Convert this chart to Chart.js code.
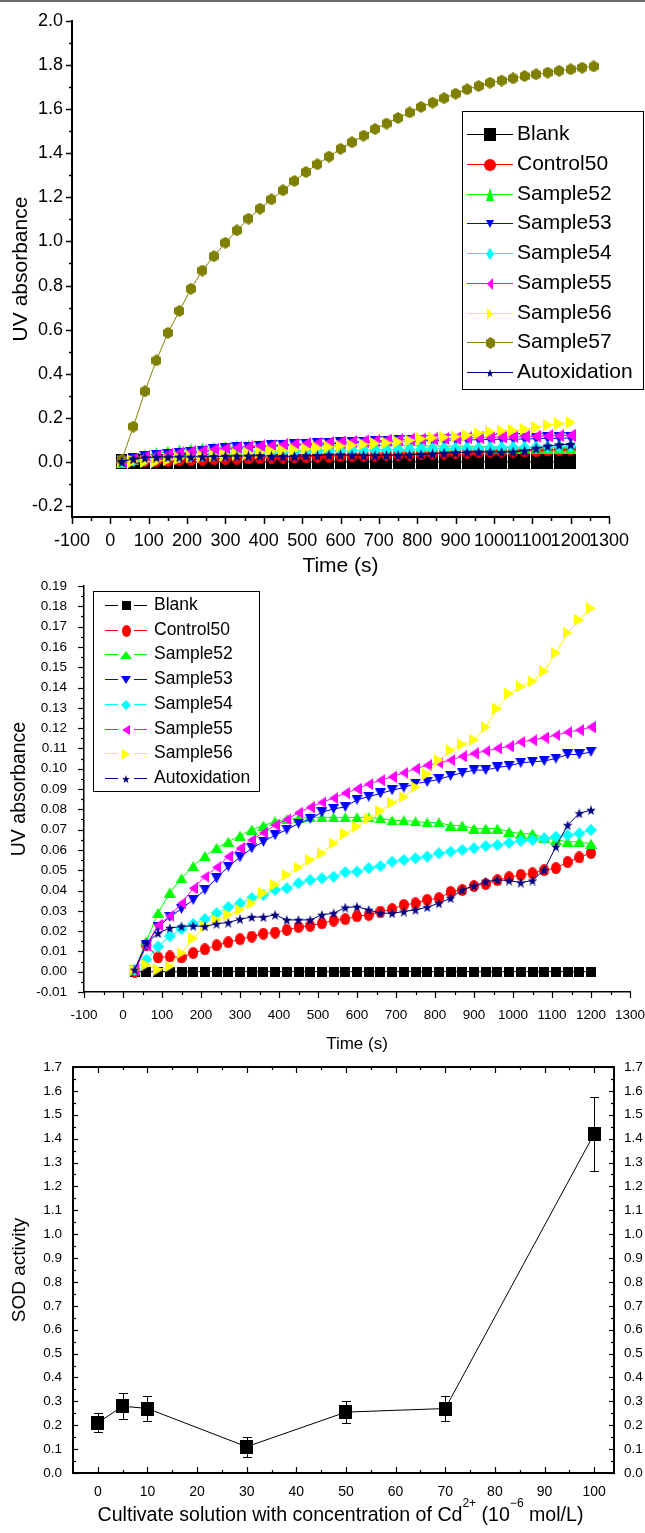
<!DOCTYPE html>
<html>
<head>
<meta charset="utf-8">
<script src="https://cdn.jsdelivr.net/npm/chart.js@4.4.1/dist/chart.umd.min.js"></script>
<style>
  html, body { margin: 0; padding: 0; background: #fff; }
  body { width: 645px; height: 1533px; position: relative; overflow: hidden; }
  canvas { position: absolute; left: 0; }
  #topline { position: absolute; left: 0; top: 0; width: 645px; height: 2px; background: #6b6b6b; }
</style>
</head>
<body>
<div id="topline"></div>
<canvas id="c1" width="645" height="580" style="top:0px"></canvas>
<canvas id="c2" width="645" height="480" style="top:580px"></canvas>
<canvas id="c3" width="645" height="473" style="top:1060px"></canvas>
<script>
// ---- data ----
const TIME = [30, 60, 90, 120, 150, 180, 210, 240, 270, 300, 330, 360, 390, 420, 450, 480, 510, 540, 570, 600,
              630, 660, 690, 720, 750, 780, 810, 840, 870, 900, 930, 960, 990, 1020, 1050, 1080, 1110, 1140, 1170, 1200];
// Sample57 runs a little longer than the others
const TIME57 = [30, 60, 90, 120, 150, 180, 210, 240, 270, 300, 330, 360, 390, 420, 450, 480, 510, 540, 570, 600,
                630, 660, 690, 720, 750, 780, 810, 840, 870, 900, 930, 960, 990, 1020, 1050, 1080, 1110, 1140, 1170, 1200,
                1230, 1260];

const BLANK = [0, 0, 0, 0, 0, 0, 0, 0, 0, 0, 0, 0, 0, 0, 0, 0, 0, 0, 0, 0,
               0, 0, 0, 0, 0, 0, 0, 0, 0, 0, 0, 0, 0, 0, 0, 0, 0, 0, 0, 0];
const CONTROL50 = [0.000, 0.013, 0.007, 0.0075, 0.007, 0.0092, 0.011, 0.013, 0.0145, 0.016,
                   0.0173, 0.0187, 0.0193, 0.0206, 0.022, 0.0226, 0.0238, 0.0252, 0.0259, 0.0273,
                   0.028, 0.0296, 0.0308, 0.0329, 0.0337, 0.0354, 0.0362, 0.0393, 0.0403, 0.0422,
                   0.0432, 0.0451, 0.0465, 0.0477, 0.0485, 0.050, 0.051, 0.054, 0.0563, 0.0585];
const SAMPLE52 = [0.001, 0.015, 0.029, 0.039, 0.046, 0.052, 0.057, 0.061, 0.064, 0.067,
                  0.070, 0.072, 0.074, 0.075, 0.0755, 0.076, 0.076, 0.076, 0.076, 0.076,
                  0.076, 0.0755, 0.0745, 0.0745, 0.074, 0.0735, 0.0735, 0.072, 0.072, 0.0705,
                  0.0705, 0.0705, 0.069, 0.068, 0.068, 0.066, 0.065, 0.064, 0.064, 0.063];
const SAMPLE53 = [0.001, 0.013, 0.022, 0.027, 0.031, 0.0354, 0.0403, 0.046, 0.0518, 0.0564,
                  0.0608, 0.064, 0.0673, 0.070, 0.073, 0.0753, 0.0785, 0.0802, 0.0812, 0.0847,
                  0.0862, 0.0878, 0.0894, 0.0907, 0.0927, 0.0935, 0.0948, 0.0965, 0.098, 0.0993,
                  0.0993, 0.1006, 0.1014, 0.1029, 0.1034, 0.1038, 0.105, 0.107, 0.107, 0.1083];
const SAMPLE54 = [0.001, 0.006, 0.0124, 0.0175, 0.021, 0.0235, 0.0259, 0.0288, 0.0318, 0.0337,
                  0.0362, 0.0378, 0.0403, 0.0411, 0.0436, 0.0452, 0.046, 0.0468, 0.049, 0.0493,
                  0.051, 0.052, 0.0542, 0.055, 0.0559, 0.0567, 0.0583, 0.0591, 0.060, 0.0608,
                  0.0619, 0.0624, 0.0635, 0.0645, 0.0649, 0.0657, 0.0665, 0.0673, 0.0681, 0.0698];
const SAMPLE55 = [0.001, 0.013, 0.023, 0.0275, 0.0337, 0.0411, 0.0468, 0.0514, 0.0567, 0.0608,
                  0.0649, 0.0685, 0.0722, 0.075, 0.0783, 0.081, 0.0834, 0.0855, 0.088, 0.090,
                  0.0924, 0.0943, 0.096, 0.098, 0.100, 0.1017, 0.1028, 0.1042, 0.1061, 0.1075,
                  0.1087, 0.110, 0.111, 0.1132, 0.114, 0.1153, 0.1165, 0.118, 0.119, 0.1205];
const SAMPLE56 = [0.001, 0.0034, 0.001, 0.0026, 0.0092, 0.0165, 0.0223, 0.0255, 0.028, 0.0305,
                  0.0337, 0.0387, 0.0428, 0.0477, 0.0514, 0.055, 0.0583, 0.0632, 0.068, 0.0715,
                  0.0755, 0.0792, 0.0832, 0.0861, 0.091, 0.0973, 0.1042, 0.109, 0.112, 0.1143,
                  0.1205, 0.1296, 0.137, 0.1405, 0.143, 0.148, 0.157, 0.167, 0.1733, 0.179];
const SAMPLE57 = [0.01, 0.16, 0.32, 0.46, 0.585, 0.685, 0.785, 0.868, 0.933, 0.994,
                  1.05, 1.103, 1.149, 1.191, 1.232, 1.274, 1.315, 1.35, 1.385, 1.42,
                  1.45, 1.48, 1.51, 1.535, 1.56, 1.585, 1.61, 1.63, 1.65, 1.67,
                  1.69, 1.705, 1.72, 1.73, 1.74, 1.75, 1.758, 1.766, 1.774, 1.781,
                  1.788, 1.794];
const AUTOXIDATION = [0.001, 0.014, 0.019, 0.0215, 0.0223, 0.0226, 0.0223, 0.0236, 0.0242, 0.0259,
                      0.0269, 0.0269, 0.028, 0.0255, 0.0255, 0.0255, 0.028, 0.0288, 0.0316, 0.032,
                      0.0305, 0.0288, 0.0288, 0.0296, 0.0305, 0.0318, 0.0337, 0.0362, 0.0403, 0.0423,
                      0.0444, 0.0452, 0.0449, 0.0439, 0.0449, 0.0501, 0.0616, 0.0722, 0.078, 0.0796];

const CONC = [0, 5, 10, 30, 50, 70, 100];
const SOD = [0.21, 0.28, 0.27, 0.11, 0.255, 0.27, 1.42];
const SOD_ERR = [0.04, 0.053, 0.052, 0.042, 0.047, 0.053, 0.155];

// tick labels
const P1_X_TICKS = [-100, 0, 100, 200, 300, 400, 500, 600, 700, 800, 900, 1000, 1100, 1200, 1300];
const P1_Y_TICKS = [-0.2, 0.0, 0.2, 0.4, 0.6, 0.8, 1.0, 1.2, 1.4, 1.6, 1.8, 2.0];
const P2_X_TICKS = [-100, 0, 100, 200, 300, 400, 500, 600, 700, 800, 900, 1000, 1100, 1200, 1300];
const P2_Y_TICKS = [-0.01, 0.00, 0.01, 0.02, 0.03, 0.04, 0.05, 0.06, 0.07, 0.08, 0.09, 0.10,
                    0.11, 0.12, 0.13, 0.14, 0.15, 0.16, 0.17, 0.18, 0.19];
const P3_X_TICKS = [0, 10, 20, 30, 40, 50, 60, 70, 80, 90, 100];
const P3_Y_TICKS = [0.0, 0.1, 0.2, 0.3, 0.4, 0.5, 0.6, 0.7, 0.8, 0.9, 1.0, 1.1, 1.2, 1.3, 1.4, 1.5, 1.6, 1.7];

// ---- styles ----
const NAMES = ['Blank', 'Control50', 'Sample52', 'Sample53', 'Sample54', 'Sample55', 'Sample56', 'Sample57', 'Autoxidation'];
const VALUES = [BLANK, CONTROL50, SAMPLE52, SAMPLE53, SAMPLE54, SAMPLE55, SAMPLE56, SAMPLE57, AUTOXIDATION];
const TIMES = [TIME, TIME, TIME, TIME, TIME, TIME, TIME, TIME57, TIME];
const COLORS = ['#000000', '#ff0000', '#00ff00', '#0000ff', '#00ffff', '#ff00ff', '#ffff00', '#808000', '#000080'];
const SHAPES = ['square', 'circle', 'up', 'down', 'diamond', 'left', 'right', 'hex', 'star'];
const P1_SIZE = [[11, 15], [11, 13], [11, 12], [11, 12], [11, 13], [10, 13], [10, 13], [10, 12], [11, 11]];
const P1_LEG_SIZE = [[12, 13], [12, 12], [8, 13], [8, 8], [8, 12], [6, 12], [6, 12], [9, 12], [8, 8]];
const P2_SIZE = [[10, 10], [10, 12], [12, 10], [11, 10], [12, 12], [9, 12], [10, 12], [10, 12], [10, 10]];
const P2_LEG_SIZE = [[9, 9], [9, 12], [12, 8], [10, 8], [10, 10], [8, 10], [8, 10], [9, 12], [8, 8]];

Chart.defaults.font.family = "'Liberation Sans', Arial, sans-serif";
Chart.defaults.color = '#000';

function makeMarker(shape, color, w, h) {
  const c = document.createElement('canvas');
  c.width = w; c.height = h;
  const g = c.getContext('2d');
  g.fillStyle = color;
  g.beginPath();
  if (shape === 'square') g.rect(0, 0, w, h);
  else if (shape === 'circle') g.ellipse(w / 2, h / 2, w / 2, h / 2, 0, 0, Math.PI * 2);
  else if (shape === 'up') { g.moveTo(w / 2, 0); g.lineTo(w, h); g.lineTo(0, h); }
  else if (shape === 'down') { g.moveTo(0, 0); g.lineTo(w, 0); g.lineTo(w / 2, h); }
  else if (shape === 'left') { g.moveTo(0, h / 2); g.lineTo(w, 0); g.lineTo(w, h); }
  else if (shape === 'right') { g.moveTo(0, 0); g.lineTo(w, h / 2); g.lineTo(0, h); }
  else if (shape === 'diamond') { g.moveTo(w / 2, 0); g.lineTo(w, h / 2); g.lineTo(w / 2, h); g.lineTo(0, h / 2); }
  else if (shape === 'hex') {
    g.moveTo(w / 2, 0); g.lineTo(w, h / 4); g.lineTo(w, 3 * h / 4);
    g.lineTo(w / 2, h); g.lineTo(0, 3 * h / 4); g.lineTo(0, h / 4);
  } else if (shape === 'star') {
    const R = h / 1.81;
    for (let i = 0; i < 10; i++) {
      const r = i % 2 ? 0.42 : 1;
      const a = -Math.PI / 2 + i * Math.PI / 5;
      g.lineTo(w / 2 + r * (w / 2) * Math.cos(a), R + r * R * Math.sin(a));
    }
  }
  g.closePath();
  g.fill();
  return c;
}

function buildSets(idx, sizes) {
  return idx.map((k, i) => ({
    label: NAMES[k],
    data: TIMES[k].map((t, j) => ({ x: t, y: VALUES[k][j] })),
    borderColor: COLORS[k],
    backgroundColor: COLORS[k],
    borderWidth: 1,
    pointStyle: makeMarker(SHAPES[k], COLORS[k], sizes[k][0], sizes[k][1]),
    pointRadius: 5,
    pointHoverRadius: 5,
    tension: 0,
    order: idx.length - i
  }));
}

// legend in a box, like the original
const boxLegend = {
  id: 'boxLegend',
  afterDraw(chart, args, o) {
    const ctx = chart.ctx;
    ctx.save();
    ctx.fillStyle = '#fff';
    ctx.fillRect(o.x, o.y, o.w, o.h);
    ctx.strokeStyle = '#000';
    ctx.lineWidth = 1;
    ctx.strokeRect(o.x + 0.5, o.y + 0.5, o.w, o.h);
    ctx.font = o.font;
    ctx.textBaseline = 'middle';
    ctx.textAlign = 'left';
    chart.data.datasets.forEach((ds, i) => {
      const y = Math.round(o.y0 + i * o.step) + 0.5;
      ctx.strokeStyle = ds.borderColor;
      ctx.beginPath();
      if (o.gap) {
        ctx.moveTo(o.lx1, y); ctx.lineTo(o.mx - o.gap, y);
        ctx.moveTo(o.mx + o.gap, y); ctx.lineTo(o.lx2, y);
      } else {
        ctx.moveTo(o.lx1, y); ctx.lineTo(o.lx2, y);
      }
      ctx.stroke();
      const img = o.markers[i];
      ctx.drawImage(img, Math.round(o.mx - img.width / 2), Math.round(y - img.height / 2));
      ctx.fillStyle = '#000';
      ctx.fillText(ds.label, o.tx, y);
    });
    ctx.restore();
  }
};

// major + minor tick marks
const axisTicks = {
  id: 'axisTicks',
  afterDraw(chart, args, o) {
    const ctx = chart.ctx, a = chart.chartArea;
    ctx.save();
    ctx.strokeStyle = '#000';
    ctx.lineWidth = o.width;
    o.axes.forEach(ax => {
      const sc = chart.scales[ax.scale];
      const n = Math.round((ax.to - ax.from) / ax.minor);
      for (let k = 0; k <= n; k++) {
        const v = ax.from + k * ax.minor;
        const q = v / ax.major;
        const len = Math.abs(q - Math.round(q)) < 1e-6 ? ax.maj : ax.min;
        const p = Math.round(sc.getPixelForValue(v)) + 0.5;
        ctx.beginPath();
        if (sc.isHorizontal()) {
          const y0 = sc.position === 'top' ? a.top : a.bottom;
          const s = ((sc.position === 'top') === (ax.dir === 'out')) ? -1 : 1;
          ctx.moveTo(p, y0); ctx.lineTo(p, y0 + s * len);
        } else {
          const x0 = sc.position === 'right' ? a.right : a.left;
          const s = ((sc.position === 'left') === (ax.dir === 'out')) ? -1 : 1;
          ctx.moveTo(x0, p); ctx.lineTo(x0 + s * len, p);
        }
        ctx.stroke();
      }
    });
    ctx.restore();
  }
};

// error bars for the SOD plot
const errorBars = {
  id: 'errorBars',
  beforeDatasetsDraw(chart, args, o) {
    const ctx = chart.ctx, xs = chart.scales.x, ys = chart.scales.y;
    ctx.save();
    ctx.strokeStyle = '#000';
    ctx.lineWidth = 1;
    CONC.forEach((c, i) => {
      const x = Math.round(xs.getPixelForValue(c)) + 0.5;
      const y1 = Math.round(ys.getPixelForValue(SOD[i] + SOD_ERR[i])) + 0.5;
      const y2 = Math.round(ys.getPixelForValue(SOD[i] - SOD_ERR[i])) + 0.5;
      ctx.beginPath();
      ctx.moveTo(x, y1); ctx.lineTo(x, y2);
      ctx.moveTo(x - o.cap, y1); ctx.lineTo(x + o.cap, y1);
      ctx.moveTo(x - o.cap, y2); ctx.lineTo(x + o.cap, y2);
      ctx.stroke();
    });
    ctx.restore();
  }
};

// x title with superscripts
const supTitle = {
  id: 'supTitle',
  afterDraw(chart, args, o) {
    const ctx = chart.ctx, a = chart.chartArea;
    const main = o.size + "px 'Liberation Sans', Arial, sans-serif";
    const sup = o.supSize + "px 'Liberation Sans', Arial, sans-serif";
    ctx.save();
    ctx.fillStyle = '#000';
    ctx.textBaseline = 'alphabetic';
    ctx.textAlign = 'left';
    let total = 0;
    o.parts.forEach(p => { ctx.font = p.sup ? sup : main; total += ctx.measureText(p.t).width; });
    let x = (a.left + a.right) / 2 - total / 2 + o.dx;
    o.parts.forEach(p => {
      ctx.font = p.sup ? sup : main;
      ctx.fillText(p.t, x, p.sup ? o.y - o.rise : o.y);
      x += ctx.measureText(p.t).width;
    });
    ctx.restore();
  }
};

function fixedTicks(list) {
  return s => { s.ticks = list.map(v => ({ value: v })); };
}
function fitH(h) {
  return s => { s.height = h; s.paddingLeft = 0; s.paddingRight = 0; };
}
function fitW(w) {
  return s => { s.width = w; s.paddingTop = 0; s.paddingBottom = 0; };
}

const noGrid = { display: false, drawTicks: false };

// ---- panel 1 ----
const p1Idx = [0, 1, 2, 3, 4, 5, 6, 7, 8];
new Chart(document.getElementById('c1'), {
  type: 'line',
  data: { datasets: buildSets(p1Idx, P1_SIZE) },
  options: {
    responsive: false, animation: false, devicePixelRatio: 1,
    layout: { padding: { top: 21, right: 36, bottom: 0, left: 0 } },
    plugins: {
      legend: { display: false }, tooltip: { enabled: false },
      boxLegend: {
        x: 462, y: 111, w: 181, h: 278, y0: 134, step: 29.75,
        lx1: 467, lx2: 513, mx: 490, tx: 517, gap: 0,
        font: "21px 'Liberation Sans', Arial, sans-serif",
        markers: p1Idx.map(k => makeMarker(SHAPES[k], COLORS[k], P1_LEG_SIZE[k][0], P1_LEG_SIZE[k][1]))
      },
      axisTicks: {
        width: 1.5,
        axes: [
          { scale: 'x', from: -100, to: 1300, major: 100, minor: 50, dir: 'out', maj: 7, min: 4 },
          { scale: 'y', from: -0.2, to: 2.0, major: 0.2, minor: 0.1, dir: 'out', maj: 6, min: 3 }
        ]
      }
    },
    scales: {
      x: {
        type: 'linear', min: -100, max: 1300,
        afterBuildTicks: fixedTicks(P1_X_TICKS), afterFit: fitH(63),
        grid: noGrid, border: { color: '#000', width: 2 },
        ticks: { autoSkip: false, maxRotation: 0, padding: 13, font: { size: 18 }, callback: v => String(v) },
        title: { display: true, text: 'Time (s)', font: { size: 21 }, padding: { top: 0, bottom: 1.5 } }
      },
      y: {
        type: 'linear', min: -0.25, max: 2.0,
        afterBuildTicks: fixedTicks(P1_Y_TICKS), afterFit: fitW(72),
        grid: noGrid, border: { color: '#000', width: 2 },
        ticks: { autoSkip: false, padding: 9, font: { size: 18 }, callback: v => v.toFixed(1) },
        title: { display: true, text: 'UV absorbance', font: { size: 21 }, padding: { top: 9, bottom: 0 } }
      }
    }
  },
  plugins: [boxLegend, axisTicks]
});

// ---- panel 2 ----
const p2Idx = [0, 1, 2, 3, 4, 5, 6, 8];
new Chart(document.getElementById('c2'), {
  type: 'line',
  data: { datasets: buildSets(p2Idx, P2_SIZE) },
  options: {
    responsive: false, animation: false, devicePixelRatio: 1,
    layout: { padding: { top: 5, right: 15, bottom: 0, left: 0 } },
    plugins: {
      legend: { display: false }, tooltip: { enabled: false },
      boxLegend: {
        x: 93, y: 11, w: 166, h: 200, y0: 25, step: 24.7,
        lx1: 105, lx2: 147, mx: 126, tx: 154, gap: 8,
        font: "17.5px 'Liberation Sans', Arial, sans-serif",
        markers: p2Idx.map(k => makeMarker(SHAPES[k], COLORS[k], P2_LEG_SIZE[k][0], P2_LEG_SIZE[k][1]))
      },
      axisTicks: {
        width: 1.2,
        axes: [
          { scale: 'x', from: -100, to: 1300, major: 100, minor: 50, dir: 'out', maj: 6, min: 3 },
          { scale: 'y', from: -0.01, to: 0.19, major: 0.01, minor: 0.005, dir: 'out', maj: 6, min: 3 }
        ]
      }
    },
    scales: {
      x: {
        type: 'linear', min: -100, max: 1300,
        afterBuildTicks: fixedTicks(P2_X_TICKS), afterFit: fitH(68),
        grid: noGrid, border: { color: '#000', width: 1.5 },
        ticks: { autoSkip: false, maxRotation: 0, padding: 15, font: { size: 13.5 }, callback: v => String(v) },
        title: { display: true, text: 'Time (s)', font: { size: 17 }, padding: { top: 0, bottom: 5 } }
      },
      y: {
        type: 'linear', min: -0.01, max: 0.19,
        afterBuildTicks: fixedTicks(P2_Y_TICKS), afterFit: fitW(84),
        grid: noGrid, border: { color: '#000', width: 1.5 },
        ticks: { autoSkip: false, padding: 17, font: { size: 13.5 }, callback: v => v.toFixed(2) },
        title: { display: true, text: 'UV absorbance', font: { size: 19.5 }, padding: { top: 7.5, bottom: 0 } }
      }
    }
  },
  plugins: [boxLegend, axisTicks]
});

// ---- panel 3 ----
new Chart(document.getElementById('c3'), {
  type: 'line',
  data: {
    datasets: [{
      label: 'SOD activity',
      data: CONC.map((c, i) => ({ x: c, y: SOD[i] })),
      borderColor: '#000', backgroundColor: '#000', borderWidth: 1,
      pointStyle: makeMarker('square', '#000', 13, 14),
      pointRadius: 6, pointHoverRadius: 6, tension: 0
    }]
  },
  options: {
    responsive: false, animation: false, devicePixelRatio: 1,
    layout: { padding: 0 },
    plugins: {
      legend: { display: false }, tooltip: { enabled: false },
      errorBars: { cap: 4.5 },
      axisTicks: {
        width: 1.2,
        axes: [
          { scale: 'x', from: 0, to: 100, major: 10, minor: 5, dir: 'in', maj: 6, min: 3 },
          { scale: 'x2', from: 0, to: 100, major: 10, minor: 5, dir: 'in', maj: 6, min: 3 },
          { scale: 'y', from: 0, to: 1.7, major: 0.1, minor: 0.05, dir: 'in', maj: 5, min: 3 },
          { scale: 'y2', from: 0, to: 1.7, major: 0.1, minor: 0.05, dir: 'in', maj: 5, min: 3 }
        ]
      },
      supTitle: {
        size: 19.6, supSize: 12, y: 461, rise: 14, dx: -3,
        parts: [
          { t: 'Cultivate solution with concentration of Cd' }, { t: '2+', sup: true },
          { t: ' (10' }, { t: '\u22126', sup: true }, { t: ' mol/L)' }
        ]
      }
    },
    scales: {
      x: {
        type: 'linear', position: 'bottom', min: -5, max: 104,
        afterBuildTicks: fixedTicks(P3_X_TICKS), afterFit: fitH(60),
        grid: noGrid, border: { color: '#000', width: 2 },
        ticks: { autoSkip: false, maxRotation: 0, padding: 11, font: { size: 14 }, callback: v => String(v) }
      },
      x2: {
        type: 'linear', position: 'top', min: -5, max: 104,
        afterFit: fitH(6),
        grid: noGrid, border: { color: '#000', width: 2 },
        ticks: { display: false }
      },
      y: {
        type: 'linear', position: 'left', min: 0, max: 1.7,
        afterBuildTicks: fixedTicks(P3_Y_TICKS), afterFit: fitW(73),
        grid: noGrid, border: { color: '#000', width: 2 },
        ticks: { autoSkip: false, padding: 11, font: { size: 13.5 }, callback: v => v.toFixed(1) },
        title: { display: true, text: 'SOD activity', font: { size: 19 }, padding: { top: 8, bottom: 0 } }
      },
      y2: {
        type: 'linear', position: 'right', min: 0, max: 1.7,
        afterBuildTicks: fixedTicks(P3_Y_TICKS), afterFit: fitW(31),
        grid: noGrid, border: { color: '#000', width: 2 },
        ticks: { autoSkip: false, padding: 10, font: { size: 13.5 }, callback: v => v.toFixed(1) }
      }
    }
  },
  plugins: [errorBars, axisTicks, supTitle]
});
</script>
</body>
</html>
